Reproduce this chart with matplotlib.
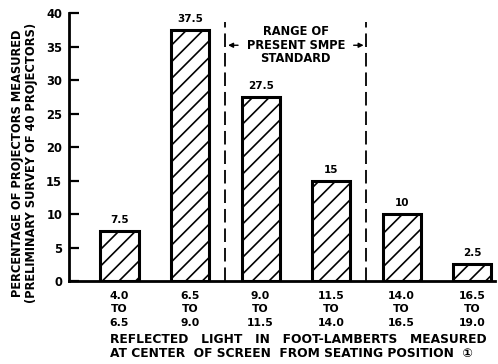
import matplotlib
matplotlib.use("Agg")
import matplotlib.pyplot as plt

categories = ["4.0\nTO\n6.5", "6.5\nTO\n9.0", "9.0\nTO\n11.5", "11.5\nTO\n14.0", "14.0\nTO\n16.5", "16.5\nTO\n19.0"]
values = [7.5, 37.5, 27.5, 15, 10, 2.5]
value_labels = ["7.5", "37.5", "27.5", "15", "10", "2.5"]
yticks = [0, 5, 10, 15, 20, 25, 30, 35, 40]

plt.rcParams['font.family'] = ['DejaVu Sans']
plt.rcParams['hatch.linewidth'] = 1.2
fs = 8.3
fw = 'bold'

fig = plt.figure(figsize=(4.98, 3.64), dpi=100)
ax = fig.add_axes([0.1386, 0.228, 0.855, 0.736])

x = list(range(len(values)))
ax.bar(x, values, width=0.54, facecolor='white', edgecolor='black', linewidth=2.2, hatch='//')
for xi, v, lab in zip(x, values, value_labels):
    ax.text(xi, v + 0.9, lab, ha='center', va='bottom', fontsize=7.5, fontweight=fw)

ax.set_xlim(-0.715, 5.32)
ax.set_ylim(0, 40)
ax.set_yticks(yticks)
ax.set_yticklabels([str(t) for t in yticks], fontsize=8.3, fontweight=fw)
ax.set_xticks(x)
ax.set_xticklabels(categories, fontsize=7.8, fontweight=fw, linespacing=1.45)
ax.tick_params(axis='y', direction='in', length=7, width=1.6, pad=5)
ax.tick_params(axis='x', length=0, pad=7)
for s in ['top', 'right']:
    ax.spines[s].set_visible(False)
ax.spines['left'].set_linewidth(2)
ax.spines['bottom'].set_linewidth(2)

# dashed range lines
for xd in [1.5, 3.5]:
    ax.plot([xd, xd], [0, 38.6], color='black', lw=1.3, dashes=(7.5, 3.3))

ax.text(2.5, 35.2, "RANGE OF\nPRESENT SMPE\nSTANDARD", ha='center', va='center',
        fontsize=fs, fontweight=fw, linespacing=1.05)
ax.annotate("", xy=(1.5, 35.2), xytext=(1.72, 35.2),
            arrowprops=dict(arrowstyle='-|>', color='black', lw=1, mutation_scale=7))
ax.annotate("", xy=(3.5, 35.2), xytext=(3.28, 35.2),
            arrowprops=dict(arrowstyle='-|>', color='black', lw=1, mutation_scale=7))

ax.set_ylabel("PERCENTAGE OF PROJECTORS MEASURED\n(PRELIMINARY SURVEY OF 40 PROJECTORS)",
              fontsize=fs, fontweight=fw, linespacing=1.1)
ax.yaxis.set_label_coords(-0.072, 0.44)
ax.set_xlabel("REFLECTED   LIGHT   IN   FOOT-LAMBERTS   MEASURED\nAT CENTER  OF SCREEN  FROM SEATING POSITION  \u2460",
              fontsize=8.8, fontweight=fw, linespacing=1.1, ha='left')
ax.xaxis.set_label_coords(0.096, -0.193)

fig.savefig("out.png", dpi=100)
